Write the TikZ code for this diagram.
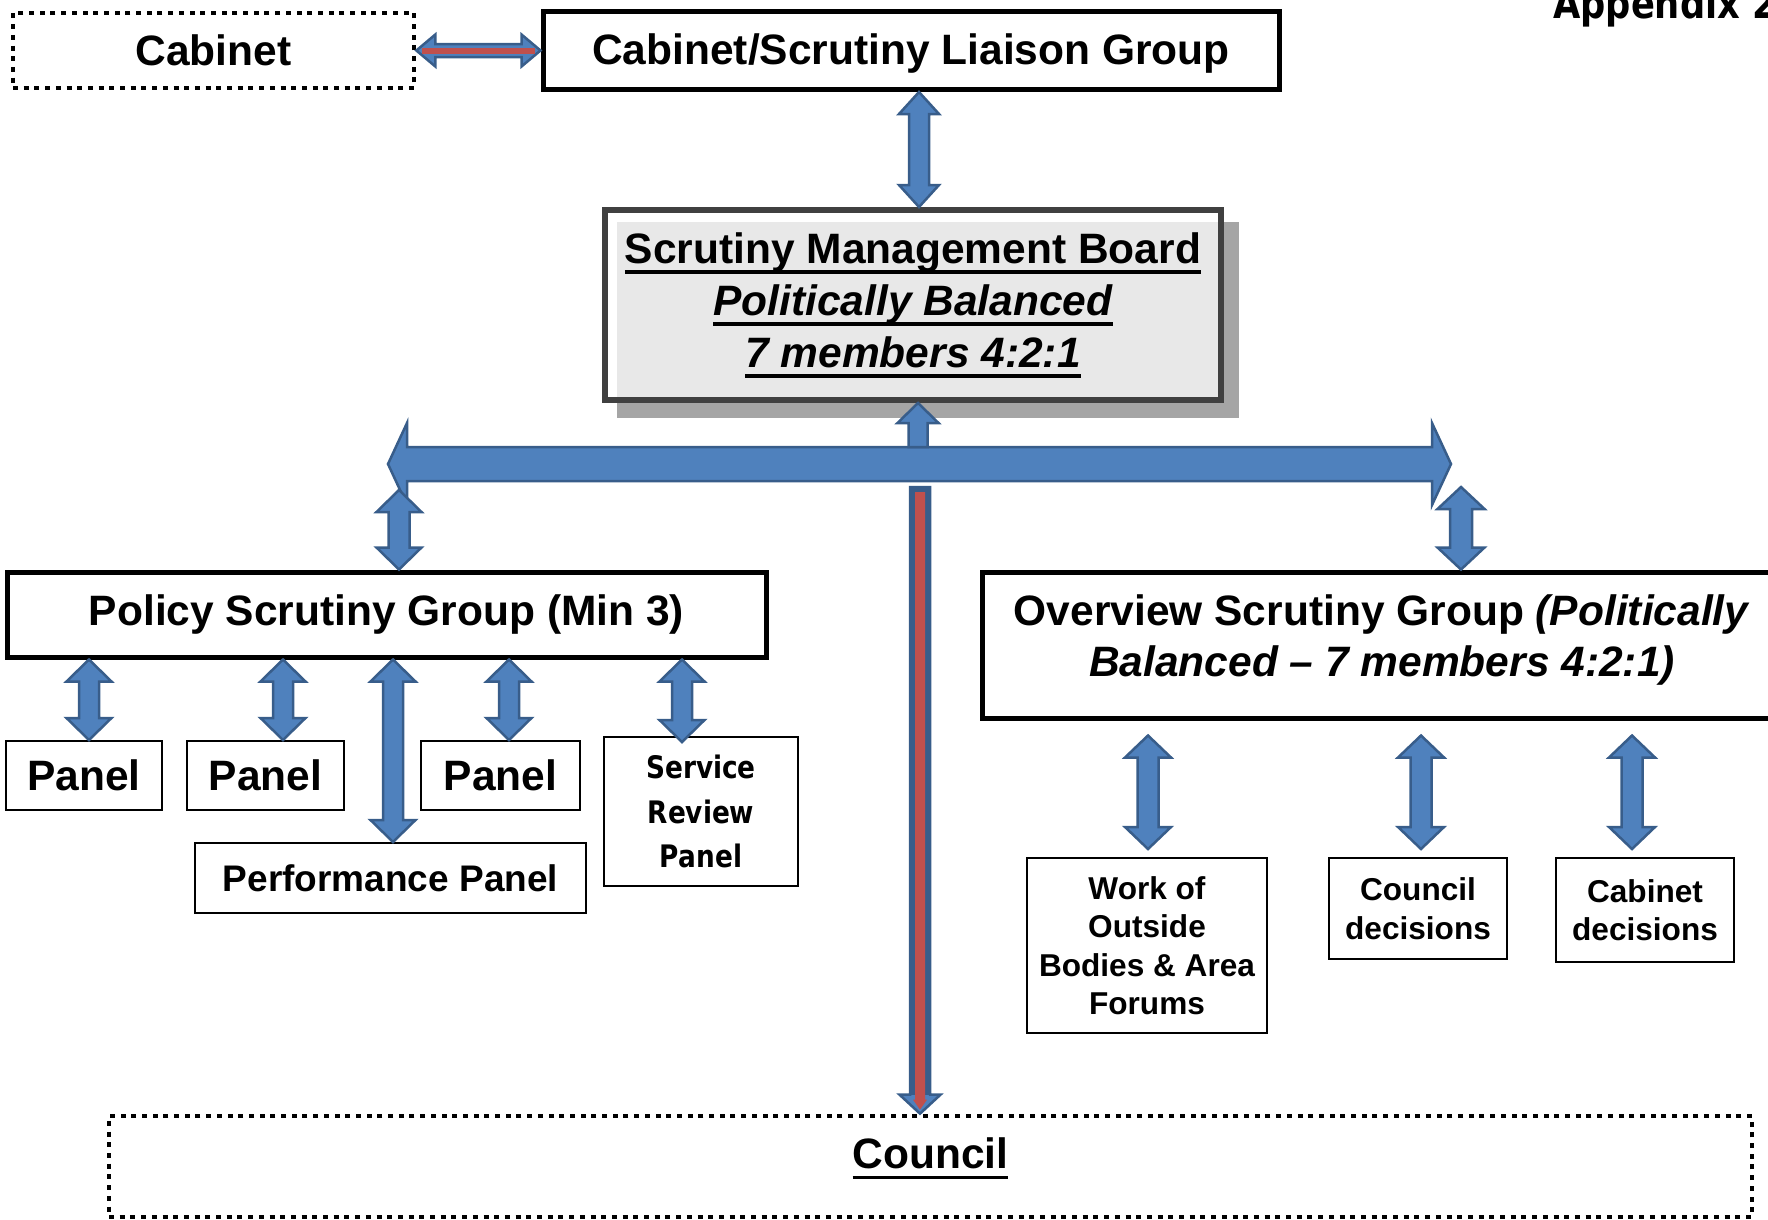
\documentclass[tikz,border=0pt]{standalone}
\usepackage{fontspec}
\setmainfont{Liberation Sans}
\newfontfamily\verd[FakeStretch=0.85]{DejaVu Sans}
\usetikzlibrary{calc}
\definecolor{abord}{HTML}{385D8A}
\definecolor{afill}{HTML}{4F81BD}
\definecolor{ared}{HTML}{C0504D}
\definecolor{shadowgray}{HTML}{A5A5A5}
\definecolor{smbgray}{HTML}{404040}
\newcommand\mainfs{\fontsize{42.5}{51}\selectfont\bfseries}
\newcommand\smbfs{\fontsize{42.5}{52}\selectfont\bfseries}
\newcommand\perffs{\fontsize{37}{44}\selectfont\bfseries}
\newcommand\smallfs{\fontsize{31.6}{38.5}\selectfont\bfseries}
\newcommand\servfs{\verd\fontsize{31}{44.5}\selectfont\bfseries}
\newcommand\appfs{\verd\fontsize{41.5}{50}\selectfont\bfseries}
\newcommand\ulx[1]{\setbox0\hbox{#1}\rlap{\rule[-0.243em]{\wd0}{0.078em}}\box0}
% vertical double block arrow: #1 top, #2 bottom, #3 half head, #4 half shaft, #5 head length
\newcommand\vdblarrow[5]{%
 \path[arrowshape] let \p1=(#1), \p2=(#2) in
 (\x1,\y1) -- (\x1+#3,\y1-#5) -- (\x1+#4,\y1-#5) -- (\x1+#4,\y2+#5) -- (\x1+#3,\y2+#5) -- (\x1,\y2)
 -- (\x1-#3,\y2+#5) -- (\x1-#4,\y2+#5) -- (\x1-#4,\y1-#5) -- (\x1-#3,\y1-#5) -- cycle;}
% upward single block arrow: #1 tip (top), #2 base (bottom)
\newcommand\upblockarrow[5]{%
 \path[arrowshape] let \p1=(#1), \p2=(#2) in
 (\x1,\y1) -- (\x1+#3,\y1-#5) -- (\x1+#4,\y1-#5) -- (\x1+#4,\y2) -- (\x1-#4,\y2)
 -- (\x1-#4,\y1-#5) -- (\x1-#3,\y1-#5) -- cycle;}
% horizontal double block arrow: #1 left, #2 right
\newcommand\hdblarrow[5]{%
 \path[arrowshape] let \p1=(#1), \p2=(#2) in
 (\x1,\y1) -- (\x1+#5,\y1+#3) -- (\x1+#5,\y1+#4) -- (\x2-#5,\y1+#4) -- (\x2-#5,\y1+#3) -- (\x2,\y1)
 -- (\x2-#5,\y1-#3) -- (\x2-#5,\y1-#4) -- (\x1+#5,\y1-#4) -- (\x1+#5,\y1-#3) -- cycle;}
\begin{document}
\begin{tikzpicture}[x=1pt,y=-1pt,
 arrowshape/.style={fill=afill,draw=abord,line width=2.5pt,line join=miter},
 thickbox/.style={rectangle,draw=black,line width=5pt,inner sep=0pt,align=center,font=\mainfs},
 thinbox/.style={rectangle,draw=black,line width=2pt,inner sep=0pt,align=center,font=\mainfs},
 dotbox/.style={rectangle,draw=black,line width=4.7pt,dash pattern=on 5pt off 5.7pt,inner sep=0pt,align=center,font=\mainfs},
 smbbox/.style={rectangle,draw=smbgray,line width=6pt,fill=white,fill opacity=0.75,text opacity=1,inner sep=0pt,align=center,font=\smbfs}]
\useasboundingbox (0,0) rectangle (1768,1219);
% shadow of the management board
\fill[shadowgray] (617,222) rectangle (1239,418);
\node[smbbox,minimum width=616pt,minimum height=190pt] (smb) at (913,305)
 {\ulx{Scrutiny Management Board}\\\ulx{\itshape Politically Balanced}\\\ulx{\itshape 7 members 4:2:1}};
\node[dotbox,minimum width=401pt,minimum height=75pt] (cabinet) at (213.5,50.5) {Cabinet};
\node[thickbox,minimum width=736pt,minimum height=78pt,text depth=2pt] (liaison) at (911,50.5) {Cabinet/Scrutiny Liaison Group};
\node[thickbox,minimum width=759pt,minimum height=85pt] (policy) at (386.5,614.5) {Policy Scrutiny Group (Min 3)};
\node[thickbox,minimum width=800pt,minimum height=146pt,text depth=19.6pt] (overview) at (1382,645)
 {Overview Scrutiny Group \textit{(Politically}\\\textit{Balanced – 7 members 4:2:1)}};
\node[thinbox,minimum width=156pt,minimum height=69pt] (panel1) at (84,775.5) {Panel};
\node[thinbox,minimum width=157pt,minimum height=69pt] (panel2) at (265.5,775.5) {Panel};
\node[thinbox,minimum width=159pt,minimum height=69pt] (panel3) at (500.5,775.5) {Panel};
\node[thinbox,minimum width=391pt,minimum height=70pt,font=\perffs] (perf) at (390.5,878) {Performance Panel};
\node[thinbox,minimum width=194pt,minimum height=149pt,font=\servfs] (service) at (701,811.5) {Service\\Review\\Panel};
\node[thinbox,minimum width=240pt,minimum height=175pt,font=\smallfs] (work) at (1147,945.5) {Work of\\Outside\\Bodies \& Area\\Forums};
\node[thinbox,minimum width=178pt,minimum height=101pt,font=\smallfs] (cdec) at (1418,908.5) {Council\\decisions};
\node[thinbox,minimum width=178pt,minimum height=104pt,font=\smallfs] (kdec) at (1645,910) {Cabinet\\decisions};
\node[dotbox,minimum width=1643pt,minimum height=101pt,text depth=26.5pt] (council) at (930.5,1166.5) {\ulx{Council}};
\node[anchor=base west,inner sep=0pt,font=\appfs] (appendix) at (1553,18) {Appendix 2};
% free ends of connectors
\coordinate (barL) at (388,464);
\coordinate (barR) at (1451,464);
\coordinate (bartop) at (918,447);
\coordinate (barPL) at (399,490);
\coordinate (barPR) at (1461,487);
\coordinate (redtop) at (920,487);
% Cabinet <-> Liaison
\hdblarrow{cabinet.east}{liaison.west}{16pt}{6.5pt}{19pt}
\draw[ared,line width=6pt] ([xshift=6pt]cabinet.east) -- ([xshift=-6pt]liaison.west);
% Liaison <-> SMB
\vdblarrow{[xshift=8pt]liaison.south}{[xshift=6pt]smb.north}{20pt}{10pt}{22pt}
% distribution bar
\hdblarrow{barL}{barR}{41pt}{17pt}{19pt}
\upblockarrow{[xshift=5pt]smb.south}{bartop}{20.5pt}{9.5pt}{20pt}
\vdblarrow{barPL}{[xshift=12.5pt]policy.north}{22.5pt}{10.5pt}{22pt}
\vdblarrow{barPR}{[xshift=79pt]overview.north}{23.5pt}{11pt}{22pt}
% red line to Council
\path[arrowshape] let \p1=(redtop), \p2=([xshift=-10.5pt]council.north) in
 (\x1-10pt,\y1) -- (\x1+10pt,\y1) -- (\x1+10pt,\y2+19pt) -- (\x1+20.5pt,\y2+19pt) -- (\x1,\y2)
 -- (\x1-20.5pt,\y2+19pt) -- (\x1-10pt,\y2+19pt) -- cycle;
\fill[abord] let \p1=(redtop), \p2=([xshift=-10.5pt]council.north) in
 (\x1-11.25pt,\y1+1.25pt) rectangle (\x1+11.25pt,\y2+19pt);
\fill[ared] let \p1=(redtop), \p2=([xshift=-10.5pt]council.north) in
 (\x1-5pt,\y1-5pt) -- (\x1+5pt,\y1-5pt) -- (\x1+5pt,\y2+14pt) -- (\x1+7pt,\y2+14pt) -- (\x1,\y2+4pt)
 -- (\x1-7pt,\y2+14pt) -- (\x1-5pt,\y2+14pt) -- cycle;
% Policy group to panels
\vdblarrow{[xshift=-297.5pt]policy.south}{[xshift=5pt]panel1.north}{22.5pt}{10pt}{22pt}
\vdblarrow{[xshift=-103.5pt]policy.south}{[xshift=17.5pt]panel2.north}{22.5pt}{10pt}{22pt}
\vdblarrow{[xshift=6.5pt]policy.south}{[xshift=2.5pt]perf.north}{22.5pt}{10pt}{22pt}
\vdblarrow{[xshift=122.5pt]policy.south}{[xshift=8.5pt]panel3.north}{22.5pt}{10pt}{22pt}
\vdblarrow{[xshift=295.5pt]policy.south}{[xshift=-19pt,yshift=-6pt]service.north}{22.5pt}{10pt}{22pt}
% Overview group to its boxes
\vdblarrow{[xshift=-234pt,yshift=-15pt]overview.south}{[xshift=1pt,yshift=8pt]work.north}{23pt}{10.5pt}{22pt}
\vdblarrow{[xshift=39pt,yshift=-15pt]overview.south}{[xshift=3pt,yshift=8pt]cdec.north}{23pt}{10.5pt}{22pt}
\vdblarrow{[xshift=250pt,yshift=-15pt]overview.south}{[xshift=-13pt,yshift=8pt]kdec.north}{23pt}{10.5pt}{22pt}
\end{tikzpicture}
\end{document}
